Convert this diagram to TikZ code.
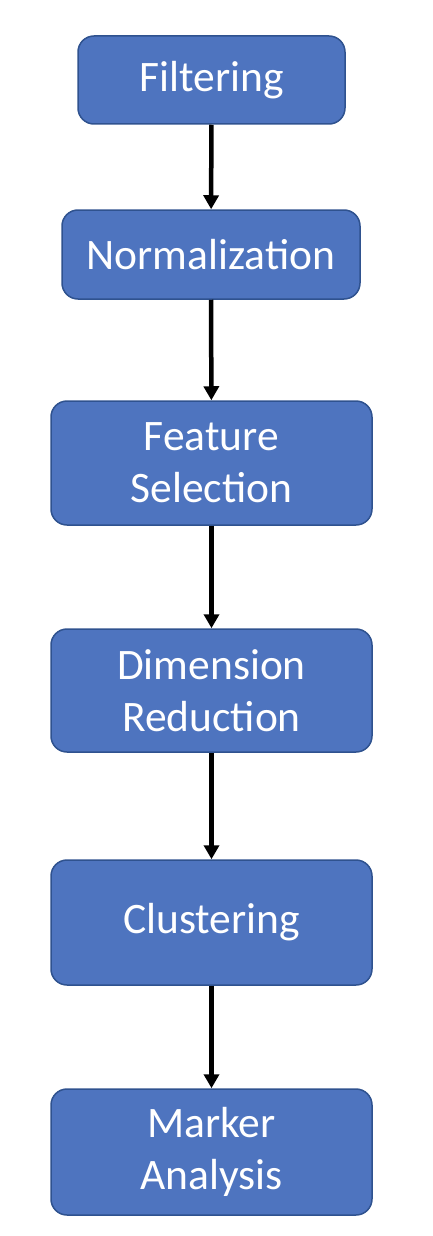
\documentclass[tikz,border=0pt]{standalone}
\usepackage{fontspec}
\setmainfont{Carlito}
\usetikzlibrary{arrows.meta}
\definecolor{boxblue}{HTML}{4E74BF}
\definecolor{boxedge}{HTML}{2F528F}
\tikzset{
    stepbox/.style={draw=boxedge, line width=1.5pt, fill=boxblue, rounded corners=16pt,
        text=white, align=center, inner sep=0pt,
        font=\fontsize{43.5}{52}\selectfont},
    flow/.style={line width=4.5pt, -{Triangle[width=15pt,length=14pt]}}
}
\begin{document}
\begin{tikzpicture}[x=1pt, y=-1pt]
    \useasboundingbox (0,0) rectangle (432,1236); % page size as reference

    % Pipeline steps
    \node[stepbox, minimum width=267pt, minimum height=88pt] (filt) at (211.5,80) {Filtering};
    \node[stepbox, minimum width=298pt, minimum height=89pt] (norm) at (211,254.5) {Normalization};
    \node[stepbox, minimum width=321pt, minimum height=124pt] (feat) at (211.5,463) {Feature\\Selection};
    \node[stepbox, minimum width=321pt, minimum height=123pt] (dimr) at (211.5,690.5) {Dimension\\Reduction};
    \node[stepbox, minimum width=321pt, minimum height=125pt] (clus) at (211.5,922.5) {Clustering};
    \node[stepbox, minimum width=321pt, minimum height=126pt] (mark) at (211.5,1152) {Marker\\Analysis};

    % Arrows between steps
    \draw[flow] (filt) -- (norm);
    \draw[flow] (norm) -- (feat);
    \draw[flow] (feat) -- (dimr);
    \draw[flow] (dimr) -- (clus);
    \draw[flow] (clus) -- (mark);
\end{tikzpicture}
\end{document}
